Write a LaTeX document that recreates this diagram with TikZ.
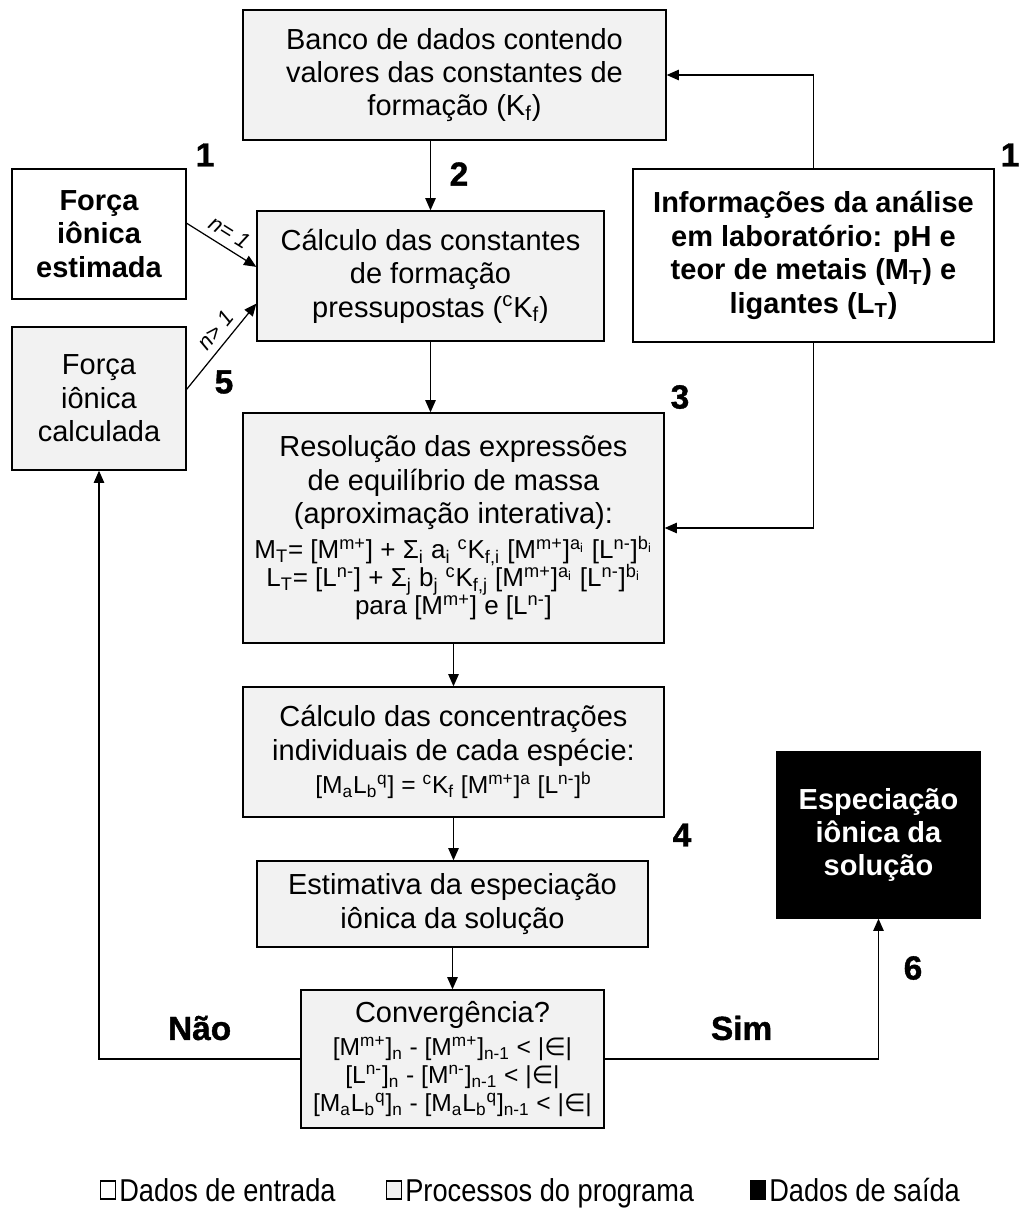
\documentclass[tikz,border=0pt]{standalone}
\usepackage{fontspec}
\setmainfont{Liberation Sans}
\newfontfamily\simbolo{DejaVu Sans}
\newfontfamily\estreita[FakeStretch=0.86]{Liberation Sans}
\newfontfamily\pesada[BoldFeatures={FakeBold=1.2}]{Liberation Sans}
\usepackage{tikz}
\usetikzlibrary{arrows.meta,positioning}
\definecolor{cinza}{HTML}{F2F2F2}
\newcommand{\Mm}{[M\textsuperscript{m+}]}
\newcommand{\Ln}{[L\textsuperscript{n-}]}
\newcommand{\Mn}{[M\textsuperscript{n-}]}
\newcommand{\MLq}{[M\textsubscript{a}L\textsubscript{b}\textsuperscript{q}]}
\newcommand{\cK}{\textsuperscript{c}K}
\newcommand{\pertence}{|{\simbolo ∈}|}
\newcommand{\fml}[1]{{\fontsize{14}{15}\selectfont #1}}
\newcommand{\fmlg}[1]{{\fontsize{14.8}{15}\selectfont #1}}

\begin{document}
\begin{tikzpicture}[x=0.02cm,y=-0.02cm,
    caixa/.style={draw, line width=0.8pt, align=center, inner sep=0pt, font=\fontsize{16.5}{19}\selectfont},
    entrada/.style={caixa, fill=white, font=\fontsize{16.5}{19}\selectfont\bfseries},
    processo/.style={caixa, fill=cinza},
    saida/.style={caixa, fill=black, text=white, font=\fontsize{16.5}{19}\selectfont\bfseries},
    seta/.style={-{Triangle[length=7pt,width=6pt]}, line width=0.7pt},
    rotulo/.style={font=\fontsize{12.5}{12.5}\selectfont\itshape, inner sep=4pt},
    numero/.style={font=\fontsize{19}{20}\selectfont\pesada\bfseries},
    quadrado/.style={draw, line width=0.6pt, minimum width=0.3cm, minimum height=0.36cm, inner sep=0pt},
    legenda/.style={font=\fontsize{18}{20}\selectfont\estreita, inner sep=0pt, anchor=base west}]
  \useasboundingbox (0,0) rectangle (1022,1221);

  \node[processo, minimum width=8.46cm, minimum height=2.6cm] (banco) at (454.5,75)
    {Banco de dados contendo\\ valores das constantes de\\ formação (K\textsubscript{f})};
  \node[entrada, minimum width=3.48cm, minimum height=2.6cm] (forcaest) at (99,234)
    {Força\\ iônica\\ estimada};
  \node[processo, minimum width=6.94cm, minimum height=2.6cm] (calc) at (430.5,276)
    {Cálculo das constantes\\ de formação\\ pressupostas (\cK\textsubscript{f})};
  \node[entrada, minimum width=7.22cm, minimum height=3.46cm] (info) at (813.5,255.5)
    {Informações da análise\\ em laboratório: pH e\\ teor de metais (M\textsubscript{T}) e\\ ligantes (L\textsubscript{T})};
  \node[processo, minimum width=3.48cm, minimum height=2.86cm] (forcacalc) at (99,398.5)
    {Força\\ iônica\\ calculada};
  \node[processo, minimum width=8.42cm, minimum height=4.6cm] (resol) at (453.5,528)
    {Resolução das expressões\\ de equilíbrio de massa\\ (aproximação interativa):\\[1pt]
     \fmlg{M\textsubscript{T}= \Mm{} + Σ\textsubscript{i} a\textsubscript{i} \cK\textsubscript{f,i} \Mm\textsuperscript{a\textsubscript{i}} \Ln\textsuperscript{b\textsubscript{i}}}\\[-3pt]
     \fmlg{L\textsubscript{T}= \Ln{} + Σ\textsubscript{j} b\textsubscript{j} \cK\textsubscript{f,j} \Mm\textsuperscript{a\textsubscript{i}} \Ln\textsuperscript{b\textsubscript{i}}}\\[-3pt]
     \fmlg{para \Mm{} e \Ln}};
  \node[processo, minimum width=8.42cm, minimum height=2.6cm] (conc) at (453.5,752)
    {Cálculo das concentrações\\ individuais de cada espécie:\\
     \fml{\MLq{} = \cK\textsubscript{f} \Mm\textsuperscript{a} \Ln\textsuperscript{b}}};
  \node[saida, minimum width=4.06cm, minimum height=3.32cm] (espec) at (878.5,835)
    {Especiação\\ iônica da\\ solução};
  \node[processo, minimum width=7.82cm, minimum height=1.72cm] (estim) at (452.5,904)
    {Estimativa da especiação\\ iônica da solução};
  \node[processo, minimum width=6.06cm, minimum height=2.76cm] (conv) at (452.5,1059)
    {Convergência?\\
     \fml{\Mm\textsubscript{n} - \Mm\textsubscript{n-1} < \pertence}\\[-3pt]
     \fml{\Ln\textsubscript{n} - \Mn\textsubscript{n-1} < \pertence}\\[-3pt]
     \fml{\MLq\textsubscript{n} - \MLq\textsubscript{n-1} < \pertence}};

  \draw[seta] (calc.north |- banco.south) -- (calc.north);
  \draw[seta] (forcaest.7) -- node[rotulo, sloped, above] {n= 1} (calc.177);
  \draw[seta] (forcacalc.6) -- node[rotulo, sloped, above, pos=0.58] {n> 1} (calc.189);
  \draw[seta] (info.north) |- (banco.east);
  \draw[seta] (info.south) |- (resol.east);
  \draw[seta] (calc.south) -- (calc.south |- resol.north);
  \draw[seta] (resol.south) -- (resol.south |- conc.north);
  \draw[seta] (conc.south) -- (conc.south |- estim.north);
  \draw[seta] (estim.south) -- (conv.north);
  \draw[seta] (conv.west) -| node[numero, pos=0.25, above=7pt] {Não} (forcacalc.south);
  \draw[seta] (conv.east) -| node[numero, pos=0.25, above=7pt] {Sim} (espec.south);

  \node[numero] (um) at (205,155) {1};
  \node[numero] (umb) at (1010,155) {1};
  \node[numero] (dois) at (459,174) {2};
  \node[numero] (tres) at (680,397) {3};
  \node[numero] (quatro) at (682,835) {4};
  \node[numero] (cinco) at (224,382) {5};
  \node[numero] (seis) at (913,968) {6};

  \node[quadrado, fill=white] (qentrada) at (108,1190) {};
  \node[legenda] (lentrada) at (119,1201) {Dados de entrada};
  \node[quadrado, fill=cinza] (qprocesso) at (394,1190) {};
  \node[legenda] (lprocesso) at (405,1201) {Processos do programa};
  \node[quadrado, fill=black] (qsaida) at (758,1190) {};
  \node[legenda] (lsaida) at (769,1201) {Dados de saída};
\end{tikzpicture}
\end{document}
